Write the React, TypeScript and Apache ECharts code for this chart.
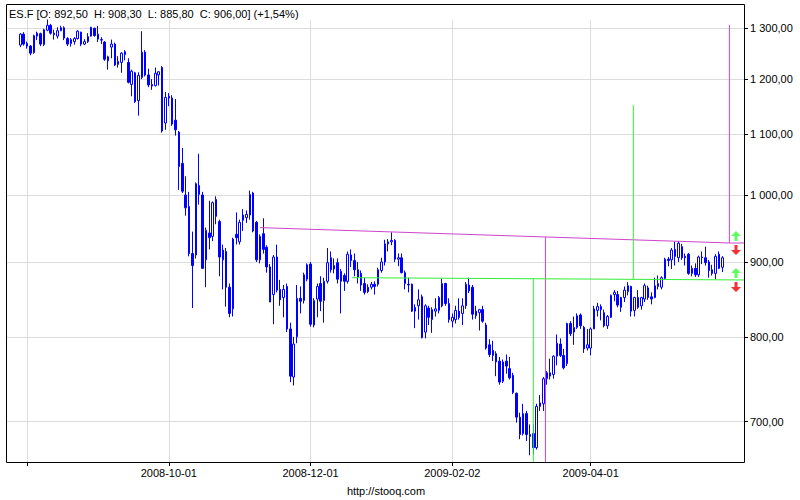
import React, { useEffect, useRef } from 'react';
import * as echarts from 'echarts';

const dates: string[] = (
  '2008-07-30 2008-07-31 ' +
  '2008-08-01 2008-08-04 2008-08-05 2008-08-06 2008-08-07 2008-08-08 2008-08-11 2008-08-12 2008-08-13 2008-08-14 2008-08-15 2008-08-18 2008-08-19 2008-08-20 2008-08-21 2008-08-22 2008-08-25 2008-08-26 2008-08-27 2008-08-28 2008-08-29 ' +
  '2008-09-02 2008-09-03 2008-09-04 2008-09-05 2008-09-08 2008-09-09 2008-09-10 2008-09-11 2008-09-12 2008-09-15 2008-09-16 2008-09-17 2008-09-18 2008-09-19 2008-09-22 2008-09-23 2008-09-24 2008-09-25 2008-09-26 2008-09-29 2008-09-30 ' +
  '2008-10-01 2008-10-02 2008-10-03 2008-10-06 2008-10-07 2008-10-08 2008-10-09 2008-10-10 2008-10-13 2008-10-14 2008-10-15 2008-10-16 2008-10-17 2008-10-20 2008-10-21 2008-10-22 2008-10-23 2008-10-24 2008-10-27 2008-10-28 2008-10-29 2008-10-30 2008-10-31 ' +
  '2008-11-03 2008-11-04 2008-11-05 2008-11-06 2008-11-07 2008-11-10 2008-11-11 2008-11-12 2008-11-13 2008-11-14 2008-11-17 2008-11-18 2008-11-19 2008-11-20 2008-11-21 2008-11-24 2008-11-25 2008-11-26 2008-11-28 ' +
  '2008-12-01 2008-12-02 2008-12-03 2008-12-04 2008-12-05 2008-12-08 2008-12-09 2008-12-10 2008-12-11 2008-12-12 2008-12-15 2008-12-16 2008-12-17 2008-12-18 2008-12-19 2008-12-22 2008-12-23 2008-12-24 2008-12-26 2008-12-29 2008-12-30 2008-12-31 ' +
  '2009-01-02 2009-01-05 2009-01-06 2009-01-07 2009-01-08 2009-01-09 2009-01-12 2009-01-13 2009-01-14 2009-01-15 2009-01-16 2009-01-20 2009-01-21 2009-01-22 2009-01-23 2009-01-26 2009-01-27 2009-01-28 2009-01-29 2009-01-30 ' +
  '2009-02-02 2009-02-03 2009-02-04 2009-02-05 2009-02-06 2009-02-09 2009-02-10 2009-02-11 2009-02-12 2009-02-13 2009-02-17 2009-02-18 2009-02-19 2009-02-20 2009-02-23 2009-02-24 2009-02-25 2009-02-26 2009-02-27 ' +
  '2009-03-02 2009-03-03 2009-03-04 2009-03-05 2009-03-06 2009-03-09 2009-03-10 2009-03-11 2009-03-12 2009-03-13 2009-03-16 2009-03-17 2009-03-18 2009-03-19 2009-03-20 2009-03-23 2009-03-24 2009-03-25 2009-03-26 2009-03-27 2009-03-30 2009-03-31 ' +
  '2009-04-01 2009-04-02 2009-04-03 2009-04-06 2009-04-07 2009-04-08 2009-04-09 2009-04-13 2009-04-14 2009-04-15 2009-04-16 2009-04-17 2009-04-20 2009-04-21 2009-04-22 2009-04-23 2009-04-24 2009-04-27 2009-04-28 2009-04-29 2009-04-30 ' +
  '2009-05-01 2009-05-04 2009-05-05 2009-05-06 2009-05-07 2009-05-08 2009-05-11 2009-05-12 2009-05-13 2009-05-14 2009-05-15 2009-05-18 2009-05-19 2009-05-20 2009-05-21 2009-05-22 2009-05-26 2009-05-27 2009-05-28'
).split(' ');

const openP = [
  1266, 1288, 1269, 1264, 1251, 1284, 1289, 1267, 1296, 1306,
  1290, 1284, 1295, 1301, 1279, 1269, 1273, 1279, 1292, 1268,
  1273, 1284, 1300, 1288, 1277, 1272, 1235, 1262, 1268, 1228,
  1232, 1247, 1232, 1190, 1212, 1160, 1203, 1252, 1208, 1190,
  1188, 1208, 1222, 1120, 1168, 1165, 1125, 1104, 1051, 1000,
  982, 912, 910, 1015, 1000, 903, 942, 937, 993, 959,
  903, 915, 865, 836, 940, 929, 961, 965, 969, 1003,
  958, 903, 941, 921, 893, 855, 907, 862, 851, 866,
  810, 751, 800, 850, 847, 876, 897, 815, 849, 870,
  847, 873, 906, 890, 899, 873, 881, 873, 910, 902,
  889, 884, 870, 859, 865, 869, 869, 888, 900, 926,
  929, 931, 904, 906, 885, 869, 869, 833, 840, 852,
  806, 837, 822, 833, 834, 840, 870, 843, 820, 822,
  833, 830, 840, 868, 865, 827, 831, 835, 815, 790,
  783, 779, 770, 746, 770, 761, 753, 732, 705, 687,
  709, 686, 687, 672, 717, 720, 749, 752, 754, 776,
  791, 777, 767, 817, 806, 812, 828, 812, 786, 786,
  810, 834, 839, 831, 814, 825, 855, 855, 838, 851,
  859, 866, 834, 851, 840, 849, 864, 852, 851, 866,
  865, 877, 904, 903, 918, 906, 922, 908, 911, 884,
  891, 882, 907, 906, 900, 889, 884, 911, 892.5,
];

const highP = [
  1290, 1292, 1273, 1266, 1287, 1293, 1291, 1299, 1318, 1309,
  1297, 1302, 1305, 1304, 1282, 1280, 1282, 1296, 1293, 1278,
  1290, 1303, 1301, 1305, 1282, 1274, 1245, 1277, 1271, 1244,
  1252, 1256, 1240, 1218, 1214, 1213, 1294, 1256, 1220, 1200,
  1222, 1215, 1225, 1176, 1174, 1170, 1163, 1106, 1077, 1030,
  1005, 944, 1020, 1067, 1005, 950, 991, 990, 998, 962,
  925, 920, 870, 935, 973, 962, 978, 976, 1007, 1005,
  960, 940, 964, 924, 897, 910, 925, 875, 868, 870,
  818, 800, 868, 866, 885, 898, 900, 850, 870, 880,
  878, 920, 915, 905, 905, 890, 884, 915, 918, 912,
  900, 888, 878, 869, 872, 873, 892, 906, 932, 933,
  943, 933, 912, 912, 888, 878, 870, 842, 862, 855,
  842, 840, 838, 850, 853, 877, 871, 850, 830, 840,
  850, 850, 872, 878, 868, 840, 836, 840, 818, 797,
  795, 782, 775, 772, 778, 775, 756, 733, 710, 720,
  712, 697, 697, 720, 730, 751, 758, 773, 777, 803,
  798, 785, 818, 820, 826, 830, 830, 814, 810, 812,
  840, 844, 842, 835, 828, 855, 861, 860, 852, 866,
  872, 867, 852, 861, 852, 870, 867, 858, 878, 881,
  880, 906, 907, 920, 929, 930, 926, 912, 913, 895,
  898, 909, 915, 922, 903, 896, 911, 915, 908.3,
];

const lowP = [
  1262, 1265, 1259, 1246, 1249, 1276, 1264, 1264, 1294, 1287,
  1277, 1279, 1294, 1276, 1264, 1263, 1267, 1277, 1264, 1266,
  1270, 1283, 1283, 1272, 1268, 1235, 1218, 1240, 1225, 1222,
  1212, 1236, 1192, 1168, 1156, 1133, 1200, 1205, 1185, 1180,
  1186, 1188, 1103, 1108, 1150, 1115, 1098, 1008, 1003, 968,
  908, 837, 905, 985, 890, 865, 918, 930, 955, 880,
  862, 839, 825, 826, 925, 925, 945, 957, 962, 943,
  900, 898, 912, 885, 845, 816, 858, 840, 825, 806,
  745, 741, 792, 830, 843, 873, 813, 812, 825, 833,
  818, 870, 885, 884, 870, 830, 860, 870, 893, 880,
  870, 860, 855, 857, 862, 855, 866, 885, 895, 915,
  924, 900, 894, 884, 862, 858, 832, 811, 822, 798,
  798, 815, 805, 826, 830, 838, 840, 818, 812, 817,
  822, 815, 836, 857, 822, 823, 808, 818, 784, 775,
  770, 752, 742, 744, 755, 748, 731, 699, 681, 685,
  679, 664, 665, 670, 712, 712, 742, 748, 749, 765,
  775, 760, 764, 801, 790, 810, 810, 780, 783, 777,
  810, 826, 821, 812, 810, 824, 846, 838, 832, 845,
  854, 826, 826, 836, 835, 845, 848, 842, 850, 862,
  862, 876, 894, 890, 895, 900, 903, 895, 882, 880,
  879, 879, 897, 895, 878, 881, 876, 890, 885.8,
];

const closeP = [
  1288, 1268, 1264, 1250, 1285, 1290, 1268, 1297, 1306, 1290,
  1287, 1295, 1301, 1280, 1268, 1277, 1279, 1294, 1268, 1273,
  1283, 1302, 1285, 1278, 1276, 1238, 1243, 1268, 1227, 1234,
  1250, 1253, 1194, 1215, 1158, 1207, 1252, 1208, 1189, 1187,
  1211, 1214, 1106, 1166, 1165, 1118, 1108, 1046, 1006, 980,
  912, 895, 1018, 1001, 891, 946, 935, 988, 967, 907,
  917, 865, 830, 933, 935, 958, 969, 970, 1001, 945,
  903, 937, 918, 893, 845, 907, 861, 848, 862, 810,
  752, 791, 850, 846, 882, 896, 816, 847, 866, 846,
  873, 899, 889, 895, 876, 887, 873, 911, 902, 889,
  879, 868, 858, 865, 869, 866, 889, 900, 926, 929,
  931, 904, 906, 885, 870, 868, 833, 838, 848, 799,
  840, 825, 835, 836, 851, 870, 843, 822, 825, 834,
  825, 840, 869, 860, 829, 833, 835, 820, 786, 778,
  777, 769, 745, 769, 764, 750, 733, 705, 686, 709,
  686, 684, 672, 717, 721, 749, 756, 756, 776, 792,
  777, 762, 817, 804, 812, 827, 814, 785, 790, 810,
  836, 839, 835, 814, 826, 854, 858, 841, 851, 861,
  867, 833, 851, 838, 851, 867, 851, 849, 867, 870,
  878, 904, 902, 917, 908, 927, 906, 906, 884, 891,
  882, 907, 906, 899, 888, 884, 908, 891, 906,
];

// Axis ticks
const yTicks = [700, 800, 900, 1000, 1100, 1200, 1300];
const xTickIdx = [2, 44, 86, 128, 169];
const xLabelIdx = [44, 86, 128, 169];
const xMin = -4.24;
const xMax = 214.43;
const yMin = 657;
const yMax = 1317;

// Drawn analysis lines (x = trading-day index, y = price)
const pinkTrendX = [71.0, 210.1];
const pinkTrendY = [950.0, 927.3];
const pinkRiseTop = 1307;
const pinkDropX = 155.6;
const pinkDropY = 936.1;
const greenTrendX = [98.3, 214.43];
const greenTrendY = [878.0, 874.9];
const greenDropX = 152.0;
const greenDropY = 876.6;
const greenRiseX = 181.63;
const greenRiseY = 875.8;
const greenRiseTop = 1152;
const arrowX = 212.06;

const BLUE = '#0000ff';
const PINK = '#cc44cc';
const GREEN = '#33ee33';
const GRID = '#dcdcdc';
const FONT = '"Liberation Sans", Arial, sans-serif';

function fmtPrice(v: number): string {
  const s = v.toFixed(2);
  const [ip, dp] = s.split('.');
  const withSep = ip.replace(/\B(?=(\d{3})+(?!\d))/g, ' ');
  return withSep + ',' + dp;
}

const upArrow = 'path://M5,0L10,5L6.5,5L6.5,10L3.5,10L3.5,5L0,5Z';
const downArrow = 'path://M3.5,0L6.5,0L6.5,5L10,5L5,10L0,5L3.5,5Z';

export default function App() {
  const ref = useRef<HTMLDivElement>(null);
  useEffect(() => {
    document.body.style.margin = '0';
    const chart = echarts.init(ref.current!, null, { renderer: 'svg' });
    const candles = dates.map((_, i) => [i, openP[i], closeP[i], lowP[i], highP[i]]);
    const lineStyleBase = { width: 1 };
    const option: any = {
      animation: false,
      backgroundColor: '#ffffff',
      grid: { left: 6, right: 56, top: 20, bottom: 38, outerBoundsMode: 'none', containLabel: false },
      xAxis: {
        type: 'value',
        min: xMin,
        max: xMax,
        position: 'bottom',
        axisLine: { show: false, onZero: false },
        axisTick: { show: true, length: 4, customValues: xTickIdx, lineStyle: { color: '#000' } },
        axisLabel: {
          customValues: xLabelIdx,
          formatter: (v: number) => dates[Math.round(v)] || '',
          color: '#000',
          fontSize: 11,
          fontFamily: FONT,
          margin: 5,
        },
        splitLine: { show: true, lineStyle: { color: GRID, width: 1 } },
      },
      yAxis: {
        type: 'log',
        logBase: 10,
        position: 'right',
        min: yMin,
        max: yMax,
        axisLine: { show: false, onZero: false },
        axisTick: { show: true, length: 4, customValues: yTicks, lineStyle: { color: '#000' } },
        axisLabel: {
          customValues: yTicks,
          formatter: (v: number) => fmtPrice(v),
          color: '#000',
          fontSize: 11,
          fontFamily: FONT,
          margin: 6,
        },
        splitLine: { show: true, lineStyle: { color: GRID, width: 1 } },
      },
      series: [
        {
          type: 'candlestick',
          data: candles,
          barWidth: 2,
          itemStyle: {
            color: '#ffffff',
            color0: BLUE,
            borderColor: BLUE,
            borderColor0: BLUE,
            borderColorDoji: BLUE,
            borderWidth: 1,
          },
        },
        {
          type: 'line',
          showSymbol: false,
          silent: true,
          lineStyle: { ...lineStyleBase, color: PINK },
          data: [
            [pinkTrendX[0], pinkTrendY[0]],
            [pinkTrendX[1], pinkTrendY[1]],
            [pinkTrendX[1], pinkRiseTop],
          ],
        },
        {
          type: 'line',
          showSymbol: false,
          silent: true,
          lineStyle: { ...lineStyleBase, color: PINK },
          data: [
            [pinkTrendX[1], pinkTrendY[1]],
            [xMax, pinkTrendY[1]],
          ],
        },
        {
          type: 'line',
          showSymbol: false,
          silent: true,
          lineStyle: { ...lineStyleBase, color: PINK },
          data: [
            [pinkDropX, pinkDropY],
            [pinkDropX, yMin],
          ],
        },
        {
          type: 'line',
          showSymbol: false,
          silent: true,
          lineStyle: { ...lineStyleBase, color: GREEN },
          data: [
            [greenTrendX[0], greenTrendY[0]],
            [greenTrendX[1], greenTrendY[1]],
          ],
        },
        {
          type: 'line',
          showSymbol: false,
          silent: true,
          lineStyle: { ...lineStyleBase, color: GREEN },
          data: [
            [greenDropX, greenDropY],
            [greenDropX, yMin],
          ],
        },
        {
          type: 'line',
          showSymbol: false,
          silent: true,
          lineStyle: { ...lineStyleBase, color: GREEN },
          data: [
            [greenRiseX, greenRiseY],
            [greenRiseX, greenRiseTop],
          ],
        },
        {
          type: 'scatter',
          silent: true,
          symbol: upArrow,
          symbolSize: [10, 10],
          symbolOffset: [0, -7],
          itemStyle: { color: '#33ff33' },
          data: [
            [arrowX, pinkTrendY[1]],
            [arrowX, greenTrendY[1]],
          ],
        },
        {
          type: 'scatter',
          silent: true,
          symbol: downArrow,
          symbolSize: [10, 10],
          symbolOffset: [0, 7],
          itemStyle: { color: '#ee0000' },
          data: [
            [arrowX, pinkTrendY[1]],
            [arrowX, greenTrendY[1]],
          ],
        },
      ],
      graphic: [
        {
          type: 'rect',
          silent: true,
          z: 100,
          shape: { x: 6.5, y: 4.5, width: 738, height: 458 },
          style: { fill: 'none', stroke: '#000', lineWidth: 1 },
        },
        {
          type: 'text',
          silent: true,
          x: 9,
          y: 14,
          style: {
            text: 'ES.F [O: 892,50  H: 908,30  L: 885,80  C: 906,00] (+1,54%)',
            fill: '#000',
            fontSize: 11,
            fontFamily: FONT,
            verticalAlign: 'middle',
          },
        },
        {
          type: 'text',
          silent: true,
          x: 386,
          y: 491,
          style: {
            text: 'http://stooq.com',
            fill: '#000',
            fontSize: 11,
            fontFamily: FONT,
            align: 'center',
            verticalAlign: 'middle',
          },
        },
      ],
    };
    chart.setOption(option);
    return () => chart.dispose();
  }, []);
  return <div ref={ref} style={{ width: 800, height: 500 }} />;
}
